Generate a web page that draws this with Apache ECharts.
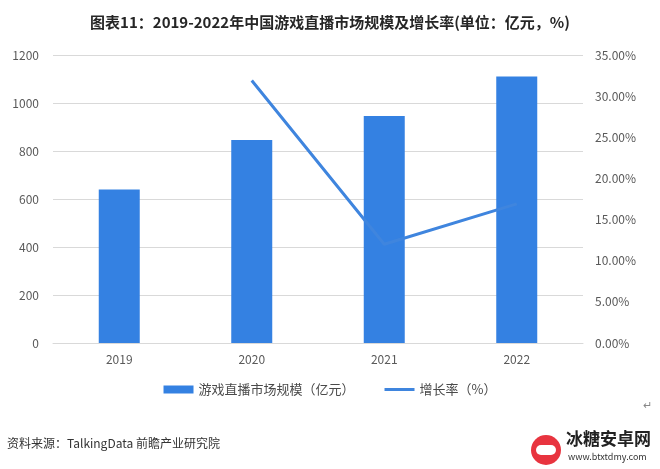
<!DOCTYPE html>
<html><head><meta charset="utf-8">
<script src="https://cdn.jsdelivr.net/npm/echarts@6/dist/echarts.min.js"></script>
<style>html,body{margin:0;padding:0;background:#fff}#c{width:660px;height:469px}</style>
</head><body><div id="c"></div>
<script>
const categories = ['2019', '2020', '2021', '2022'];
const marketSize = [640, 846, 946, 1110];
const growthRate = [null, 31.9, 12.0, 16.9];
const leftTicks = [0, 200, 400, 600, 800, 1000, 1200];
const titleText = '图表11：2019-2022年中国游戏直播市场规模及增长率(单位：亿元，%)';
const sourceText = '资料来源：TalkingData 前瞻产业研究院';
const barName = '游戏直播市场规模（亿元）';
const lineName = '增长率（%）';

const chart = echarts.init(document.getElementById('c'));
const font = '"Noto Sans CJK SC", "Noto Sans", sans-serif';
chart.setOption({
  animation: false,
  textStyle: {fontFamily: font},
  title: {
    text: titleText, left: 'center', top: 10,
    textStyle: {fontSize: 15, fontWeight: 'bold', color: '#262626', fontFamily: font}
  },
  legend: {
    bottom: 68, left: 'center', itemGap: 30, itemWidth: 30, itemHeight: 8,
    textStyle: {fontSize: 13, color: '#4a4a4a', fontFamily: font},
    data: [{name: barName, icon: 'rect'}, {name: lineName, icon: 'path://M0,0L30,0L30,3L0,3Z'}]
  },
  grid: {left: 53, right: 77, top: 55, bottom: 126},
  xAxis: {
    type: 'category', data: categories,
    axisLine: {lineStyle: {color: '#d9d9d9'}}, axisTick: {show: false},
    axisLabel: {fontSize: 12, color: '#595959', margin: 10}
  },
  yAxis: [{
    type: 'value', min: 0, max: 1200, interval: 200,
    axisLine: {show: false}, axisTick: {show: false},
    splitLine: {lineStyle: {color: '#d9d9d9'}},
    axisLabel: {fontSize: 12, color: '#595959', margin: 14, formatter: v => String(v)}
  }, {
    type: 'value', min: 0, max: 35, interval: 5,
    axisLine: {show: false}, axisTick: {show: false}, splitLine: {show: false},
    axisLabel: {fontSize: 12, color: '#595959', margin: 12, formatter: v => v.toFixed(2) + '%'}
  }],
  series: [{
    name: barName, type: 'bar', data: marketSize, barWidth: 41,
    itemStyle: {color: '#3481e2'}
  }, {
    name: lineName, type: 'line', yAxisIndex: 1, data: growthRate,
    symbol: 'none', lineStyle: {width: 3, color: '#3f85de'}, itemStyle: {color: '#3f85de'}
  }],
  graphic: [
    {type: 'text', left: 7, top: 437, style: {text: sourceText, fontSize: 12, fill: '#333', fontFamily: font}},
    {type: 'text', left: 643, top: 400, style: {text: '↵', fontSize: 11, fill: '#888'}},
    {type: 'circle', shape: {cx: 546, cy: 450, r: 15}, style: {fill: '#e8343f'}},
    {type: 'rect', shape: {x: 536, y: 445, width: 20, height: 10, r: 5}, style: {fill: '#fff'}},
    {type: 'text', left: 566, top: 430, style: {text: '冰糖安卓网', fontSize: 17, fontWeight: 'bold', fill: '#222', fontFamily: font}},
    {type: 'text', left: 568, top: 452, style: {text: 'www.btxtdmy.com', fontSize: 9, fill: '#333', fontFamily: font}}
  ]
});
</script></body></html>
